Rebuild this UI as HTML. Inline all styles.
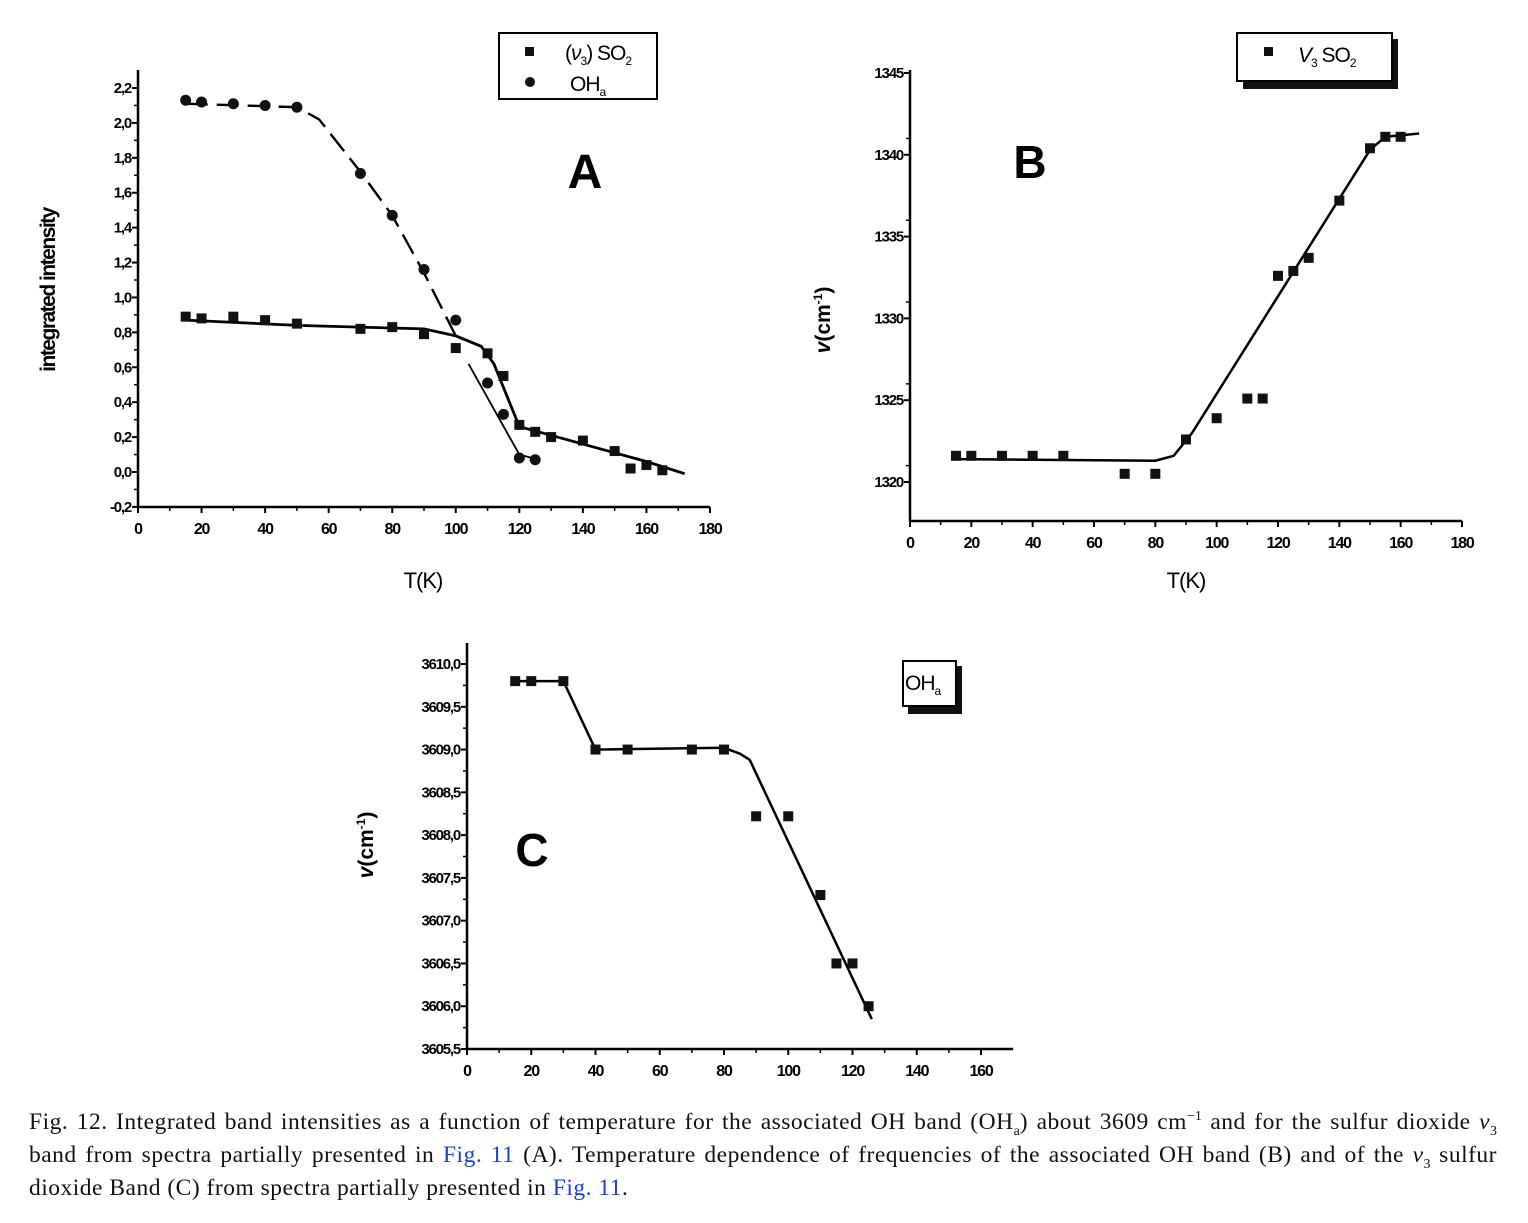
<!DOCTYPE html>
<html><head><meta charset="utf-8">
<style>
body{margin:0;background:#fff;width:1528px;height:1223px;overflow:hidden;position:relative;font-family:"Liberation Sans",sans-serif}
svg{position:absolute;left:0;top:0}
.cap{position:absolute;left:29px;top:1106px;width:1468px;font-family:"Liberation Serif",serif;font-size:23.5px;letter-spacing:0.5px;color:#111}
.cap div{height:33px;line-height:33px;white-space:nowrap}
.cap .j{text-align:justify;text-align-last:justify;white-space:normal}
.cap a{color:#1a3fd0;text-decoration:none}
.sb{font-size:14px;position:relative;top:6px;letter-spacing:0}
.sp{font-size:14px;position:relative;top:-9px;letter-spacing:0}
</style></head><body>
<svg id="fig" width="1528" height="1223"></svg>
<div class="cap">
<div class="j">Fig. 12. Integrated band intensities as a function of temperature for the associated OH band (OH<span class="sb">a</span>) about 3609 cm<span class="sp">−1</span> and for the sulfur dioxide&nbsp;<i>ν</i><span class="sb">3</span></div>
<div class="j">band from spectra partially presented in <a>Fig. 11</a> (A). Temperature dependence of frequencies of the associated OH band (B) and of the <i>ν</i><span class="sb">3</span>&nbsp;sulfur</div>
<div>dioxide Band (C) from spectra partially presented in <a>Fig. 11</a>.</div>
</div>
<script>
// Chart A data
const aSo2T=[15,20,30,40,50,70,80,90,100,110,115,120,125,130,140,150,155,160,165];
const aSo2V=[0.89,0.88,0.89,0.87,0.85,0.82,0.83,0.79,0.71,0.68,0.55,0.27,0.23,0.20,0.18,0.12,0.02,0.04,0.01];
const aOhT=[15,20,30,40,50,70,80,90,100,110,115,120,125];
const aOhV=[2.13,2.12,2.11,2.10,2.09,1.71,1.47,1.16,0.87,0.51,0.33,0.08,0.07];
const aSo2FitT=[15,50,90,100,108,112,120,130,160,172];
const aSo2FitV=[0.87,0.84,0.82,0.78,0.72,0.62,0.26,0.21,0.06,-0.01];
const aOhFitT=[15,50,57,70,80,90,100];
const aOhFitV=[2.11,2.09,2.02,1.72,1.47,1.14,0.78];
const aOhFit2T=[104,120,126];
const aOhFit2V=[0.62,0.10,0.07];
const aXTicks=[0,20,40,60,80,100,120,140,160,180];
const aYTicks=[-0.2,0,0.2,0.4,0.6,0.8,1.0,1.2,1.4,1.6,1.8,2.0,2.2];
// Chart B data
const bT=[15,20,30,40,50,70,80,90,100,110,115,120,125,130,140,150,155,160];
const bV=[1321.6,1321.6,1321.6,1321.6,1321.6,1320.5,1320.5,1322.6,1323.9,1325.1,1325.1,1332.6,1332.9,1333.7,1337.2,1340.4,1341.1,1341.1];
const bFitT=[15,80,86,92,150,155,166];
const bFitV=[1321.4,1321.3,1321.6,1323,1340.3,1341.1,1341.3];
const bXTicks=[0,20,40,60,80,100,120,140,160,180];
const bYTicks=[1320,1325,1330,1335,1340,1345];
// Chart C data
const cT=[15,20,30,40,50,70,80,90,100,110,115,120,125];
const cV=[3609.8,3609.8,3609.8,3609.0,3609.0,3609.0,3609.0,3608.22,3608.22,3607.3,3606.5,3606.5,3606.0];
const cFitT=[15,30,40,80,85,88,126];
const cFitV=[3609.8,3609.8,3609.0,3609.02,3608.95,3608.88,3605.85];
const cXTicks=[0,20,40,60,80,100,120,140,160];
const cYTicks=[3605.5,3606,3606.5,3607,3607.5,3608,3608.5,3609,3609.5,3610];

const NS='http://www.w3.org/2000/svg';
const svg=document.getElementById('fig');
function el(tag,attrs,parent){const e=document.createElementNS(NS,tag);for(const k in attrs)e.setAttribute(k,attrs[k]);(parent||svg).appendChild(e);return e;}
function lin(d0,d1,p0,p1){return v=>p0+(v-d0)*(p1-p0)/(d1-d0);}

function axes(g,sx,sy,xT,yT,x0,x1,yBot,yTop,fmt,minorX,minorY){
  const ax=el('line',{x1:sx(x0),y1:yBot,x2:sx(x0),y2:yTop,stroke:'#000','stroke-width':2.5},g);
  
  const bx=el('line',{x1:sx(x0),y1:yBot,x2:sx(x1),y2:yBot,stroke:'#000','stroke-width':2.5},g);
  
  xT.forEach((t,i)=>{
    el('line',{x1:sx(t),y1:yBot,x2:sx(t),y2:yBot+6,stroke:'#000','stroke-width':2},g);
    if(i<xT.length-1)el('line',{x1:sx(t+minorX),y1:yBot,x2:sx(t+minorX),y2:yBot+4,stroke:'#000','stroke-width':1.5},g);
    const tx=el('text',{x:sx(t),y:yBot+27,'text-anchor':'middle','font-size':16,'font-weight':'bold','font-family':'"Liberation Sans",sans-serif','letter-spacing':'-1.2'},g);
    tx.textContent=t;
    
  });
  yT.forEach((t,i)=>{
    el('line',{x1:sx(x0),y1:sy(t),x2:sx(x0)-6,y2:sy(t),stroke:'#000','stroke-width':2},g);
    if(i<yT.length-1)el('line',{x1:sx(x0),y1:sy(t+minorY),x2:sx(x0)-4,y2:sy(t+minorY),stroke:'#000','stroke-width':1.5},g);
    const ty=el('text',{x:sx(x0)-7,y:sy(t)+5,'text-anchor':'end','font-size':15,'font-weight':'bold','font-family':'"Liberation Sans",sans-serif','letter-spacing':'-1.2'},g);
    ty.textContent=fmt(t);
    
  });
}
function path(g,sx,sy,T,V,attrs,name){
  const d=T.map((t,i)=>(i?'L':'M')+sx(t).toFixed(1)+','+sy(V[i]).toFixed(1)).join(' ');
  const p=el('path',Object.assign({d:d,fill:'none',stroke:'#000'},attrs),g);
  
}
function squares(g,sx,sy,T,V,name){
  T.forEach((t,i)=>{const r=el('rect',{x:sx(t)-5,y:sy(V[i])-5,width:10,height:10,fill:'#111'},g);
  });
}
function circles(g,sx,sy,T,V,name){
  T.forEach((t,i)=>{const c=el('circle',{cx:sx(t),cy:sy(V[i]),r:5.5,fill:'#111'},g);
  });
}
function txt(g,x,y,s,attrs,name){const t=el('text',Object.assign({x:x,y:y,'font-family':'"Liberation Sans",sans-serif'},attrs),g);t.textContent=s;return t;}

// ---- Chart A
const gA=el('g',{});
const axA=lin(0,180,138,710), ayA=lin(0,2.2,472,88);
axes(gA,axA,ayA,aXTicks,aYTicks,0,180,507,70,v=>v.toFixed(1).replace('.',','),10,0.1);
path(gA,axA,ayA,aOhFitT,aOhFitV,{'stroke-width':2.4,'stroke-dasharray':'22,9'},'oh-fit-dashed');
path(gA,axA,ayA,aOhFit2T,aOhFit2V,{'stroke-width':1.8},'oh-fit-solid');
path(gA,axA,ayA,aSo2FitT,aSo2FitV,{'stroke-width':2.8},'so2-fit-line');
squares(gA,axA,ayA,aSo2T,aSo2V,'so2-point');
circles(gA,axA,ayA,aOhT,aOhV,'oh-point');
txt(gA,0,0,'integrated intensity',{transform:'translate(55,290) rotate(-90)','text-anchor':'middle','font-size':21,'font-weight':'bold','letter-spacing':'-1.5'},'y-axis-title');
txt(gA,423,588,'T(K)',{'text-anchor':'middle','font-size':22,'letter-spacing':'-1'},'x-axis-title');
txt(gA,585,188,'A',{'text-anchor':'middle','font-size':48,'font-weight':'bold'},'panel-label-a');
const lgA=el('rect',{x:499,y:33,width:158,height:66,fill:'#fff',stroke:'#000','stroke-width':2},gA);

el('rect',{x:525,y:47,width:9,height:9,fill:'#111'},gA);
el('circle',{cx:530,cy:82,r:5,fill:'#111'},gA);
const l1=txt(gA,565,60,'',{'font-size':21,'letter-spacing':'-1'},'legend-entry-so2');
l1.innerHTML='(<tspan font-style="italic">ν</tspan><tspan font-size="12" dy="5">3</tspan><tspan dy="-5">) SO</tspan><tspan font-size="12" dy="5">2</tspan>';
const l2=txt(gA,570,91,'',{'font-size':21,'letter-spacing':'-1'},'legend-entry-oh');
l2.innerHTML='OH<tspan font-size="12" dy="5">a</tspan>';

// ---- Chart B
const gB=el('g',{});
const axB=lin(0,180,910,1462), ayB=lin(1320,1345,482,73);
axes(gB,axB,ayB,bXTicks,bYTicks,0,180,521,70,v=>String(v),10,1);
path(gB,axB,ayB,bFitT,bFitV,{'stroke-width':2.5},'fit-line-b');
squares(gB,axB,ayB,bT,bV,'so2-point-b');
const yb=txt(gB,0,0,'',{transform:'translate(830,320) rotate(-90)','text-anchor':'middle','font-size':21,'font-weight':'bold'},'y-axis-title-b');
yb.innerHTML='<tspan font-style="italic">v</tspan>(cm<tspan font-size="12" dy="-8">-1</tspan><tspan dy="8">)</tspan>';
txt(gB,1186,588,'T(K)',{'text-anchor':'middle','font-size':22,'letter-spacing':'-1'},'x-axis-title-b');
txt(gB,1030,178,'B',{'text-anchor':'middle','font-size':46,'font-weight':'bold'},'panel-label-b');
el('rect',{x:1243,y:39,width:155,height:50,fill:'#111'},gB);
const lgB=el('rect',{x:1237,y:33,width:155,height:48,fill:'#fff',stroke:'#000','stroke-width':2},gB);

el('rect',{x:1264,y:47,width:9,height:9,fill:'#111'},gB);
const l3=txt(gB,1298,62,'',{'font-size':21,'letter-spacing':'-1'},'legend-entry-b');
l3.innerHTML='<tspan font-style="italic">V</tspan><tspan font-size="12" dy="5">3</tspan><tspan dy="-5"> SO</tspan><tspan font-size="12" dy="5">2</tspan>';

// ---- Chart C
const gC=el('g',{});
const axC=lin(0,160,467,981), ayC=lin(3605.5,3610,1049,664);
axes(gC,axC,ayC,cXTicks,cYTicks,0,170,1049,643,v=>v.toFixed(1).replace('.',','),10,0.25);
path(gC,axC,ayC,cFitT,cFitV,{'stroke-width':2.5},'fit-line-c');
squares(gC,axC,ayC,cT,cV,'oh-point-c');
const yc=txt(gC,0,0,'',{transform:'translate(373,845) rotate(-90)','text-anchor':'middle','font-size':21,'font-weight':'bold'},'y-axis-title-c');
yc.innerHTML='<tspan font-style="italic">v</tspan>(cm<tspan font-size="12" dy="-8">-1</tspan><tspan dy="8">)</tspan>';
txt(gC,532,866,'C',{'text-anchor':'middle','font-size':46,'font-weight':'bold'},'panel-label-c');
el('rect',{x:908,y:666,width:54,height:48,fill:'#111'},gC);
const lgC=el('rect',{x:903,y:661,width:53,height:45,fill:'#fff',stroke:'#000','stroke-width':2},gC);

const l4=txt(gC,905,690,'',{'font-size':21,'letter-spacing':'-1'},'legend-entry-c');
l4.innerHTML='OH<tspan font-size="12" dy="5">a</tspan>';
</script>
</body></html>
